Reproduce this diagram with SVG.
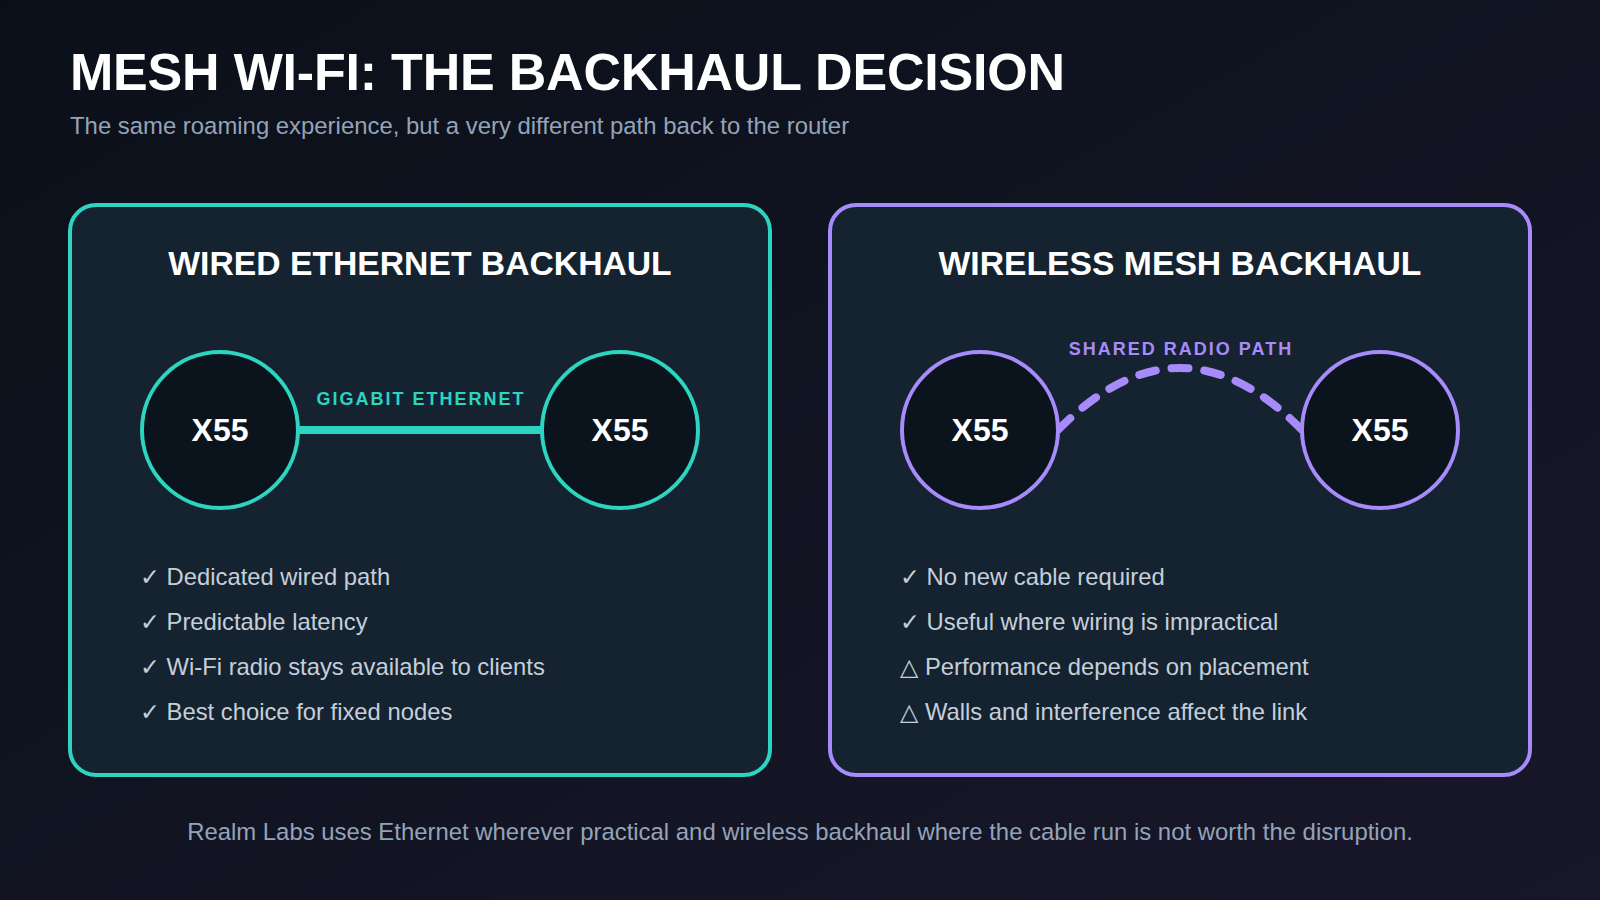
<svg xmlns="http://www.w3.org/2000/svg" width="1600" height="900" viewBox="0 0 1600 900">
  <defs>
    <linearGradient id="bg" x1="0" y1="0" x2="1" y2="1">
      <stop offset="0" stop-color="#0a1019"/>
      <stop offset="1" stop-color="#18172a"/>
    </linearGradient>
  </defs>
  <style>
    .title{font-family:"Liberation Sans",Arial,sans-serif;font-weight:bold;font-size:52px;letter-spacing:-0.2px;fill:#ffffff}
    .sub{font-family:"Liberation Sans",Arial,sans-serif;font-size:23.9px;fill:#94a3b8}
    .ptitle{font-family:"Liberation Sans",Arial,sans-serif;font-weight:bold;font-size:33.7px;fill:#ffffff;text-anchor:middle}
    .node{font-family:"Liberation Sans",Arial,sans-serif;font-weight:bold;font-size:32px;fill:#ffffff;text-anchor:middle}
    .lbl{font-family:"Liberation Sans",Arial,sans-serif;font-weight:bold;font-size:18px;letter-spacing:2px;text-anchor:middle}
    .bul{font-family:"Liberation Sans","DejaVu Sans",sans-serif;font-size:23.8px;fill:#c5cfda}
    .foot{font-family:"Liberation Sans",Arial,sans-serif;font-size:23.9px;fill:#94a3b8;text-anchor:middle}
    .panel{fill:#152331;stroke-width:4}
    .circ{fill:#0b141c;stroke-width:4}
    .teal{stroke:#2dd4bf}
    .purp{stroke:#a78bfa}
  </style>
  <rect x="0" y="0" width="1600" height="900" fill="url(#bg)"/>

  <g id="header">
    <text class="title" x="70" y="90">MESH WI-FI: THE BACKHAUL DECISION</text>
    <text class="sub" x="70" y="134">The same roaming experience, but a very different path back to the router</text>
  </g>

  <g id="panel-wired">
    <rect class="panel teal" x="70" y="205" width="700" height="570" rx="26"/>
    <text class="ptitle" x="420" y="275">WIRED ETHERNET BACKHAUL</text>
    <text class="bul" x="140" y="585">✓ Dedicated wired path</text>
    <text class="bul" x="140" y="630">✓ Predictable latency</text>
    <text class="bul" x="140" y="675">✓ Wi-Fi radio stays available to clients</text>
    <text class="bul" x="140" y="720">✓ Best choice for fixed nodes</text>
  </g>

  <g id="panel-wireless">
    <rect class="panel purp" x="830" y="205" width="700" height="570" rx="26"/>
    <text class="ptitle" x="1180" y="275">WIRELESS MESH BACKHAUL</text>
    <text class="bul" x="900" y="585">✓ No new cable required</text>
    <text class="bul" x="900" y="630">✓ Useful where wiring is impractical</text>
    <text class="bul" x="900" y="675">△ Performance depends on placement</text>
    <text class="bul" x="900" y="720">△ Walls and interference affect the link</text>
  </g>

  <g id="connectors">
    <line x1="298" y1="430" x2="542" y2="430" stroke="#2dd4bf" stroke-width="8"/>
    <text class="lbl" x="421" y="405" fill="#2dd4bf">GIGABIT ETHERNET</text>
    <path d="M1058 430 Q1180 306 1302 430" fill="none" stroke="#a78bfa" stroke-width="8" stroke-linecap="round" stroke-dasharray="17 16"/>
    <text class="lbl" x="1181" y="355" fill="#a78bfa">SHARED RADIO PATH</text>
  </g>

  <g id="node-wired-a">
    <circle class="circ teal" cx="220" cy="430" r="78"/>
    <text class="node" x="220" y="441">X55</text>
  </g>
  <g id="node-wired-b">
    <circle class="circ teal" cx="620" cy="430" r="78"/>
    <text class="node" x="620" y="441">X55</text>
  </g>
  <g id="node-wireless-a">
    <circle class="circ purp" cx="980" cy="430" r="78"/>
    <text class="node" x="980" y="441">X55</text>
  </g>
  <g id="node-wireless-b">
    <circle class="circ purp" cx="1380" cy="430" r="78"/>
    <text class="node" x="1380" y="441">X55</text>
  </g>

  <g id="footer">
    <text class="foot" x="800" y="840">Realm Labs uses Ethernet wherever practical and wireless backhaul where the cable run is not worth the disruption.</text>
  </g>
</svg>
